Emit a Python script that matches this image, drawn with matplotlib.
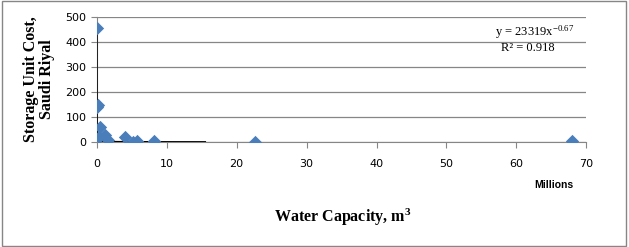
import numpy as np
import matplotlib.pyplot as plt
from matplotlib.patches import Rectangle

plt.rcParams['mathtext.fontset'] = 'custom'
plt.rcParams['mathtext.rm'] = 'Liberation Serif'
plt.rcParams['mathtext.it'] = 'Liberation Serif'
plt.rcParams['mathtext.bf'] = 'Liberation Serif:bold'

# water capacity (millions of m3) and storage unit cost (Saudi Riyal)
capacity = [0.05, 0.08, 0.12, 0.5, 0.3, 1.1, 1.6, 4.0, 5.1, 5.8, 8.2, 22.6, 68.0]
cost = [455, 140, 150, 62, 19, 28, 8, 20, 2, 3, 3, 0, 3]

# power trendline reported in the chart: y = a * x^b  (x in m3)
coef_a = 23319
coef_b = -0.67
r2 = 0.918

fig = plt.figure(figsize=(6.29, 2.47), dpi=100)
ax = fig.add_axes([0.154, 0.425, 0.778, 0.506])

ax.scatter(capacity, cost, marker='D', s=46, color='#4a7ebb', zorder=3, linewidths=0)

trend_x = np.geomspace(360, 15.5e6, 2000)
trend_y = coef_a * trend_x ** coef_b
ax.plot(trend_x / 1e6, trend_y, color='black', lw=1.2, zorder=2.8)

ax.set_xlim(0, 70)
ax.set_ylim(0, 500)
ax.set_xticks(range(0, 71, 10))
ax.set_yticks(range(0, 501, 100))
ax.yaxis.grid(True, color='#868686', lw=0.9)
ax.set_axisbelow(True)
for s in ['top', 'right']:
    ax.spines[s].set_visible(False)
for s in ['left', 'bottom']:
    ax.spines[s].set_color('#868686')
ax.tick_params(axis='both', colors='#868686', labelcolor='black', labelsize=8,
               direction='out', length=4)
ax.tick_params(axis='x', pad=8)
for lab in ax.get_xticklabels() + ax.get_yticklabels():
    lab.set_family('DejaVu Sans')

ax.text(0.975, 0.88, r'y = 23319x$^{\mathrm{-0.67}}$', transform=ax.transAxes,
        family='Liberation Serif', fontsize=9, ha='right', va='center')
ax.text(0.88, 0.755, 'R² = 0.918', transform=ax.transAxes,
        family='Liberation Serif', fontsize=9, ha='center', va='center')

fig.text(0.88, 0.25, 'Millions', family='Liberation Sans', fontsize=7.5,
         fontweight='bold', ha='center', va='center')
fig.text(0.545, 0.12, r'Water Capacity, m$^{\mathbf{3}}$', family='Liberation Serif',
         fontsize=11.5, fontweight='bold', ha='center', va='center')
fig.text(0.062, 0.68, 'Storage Unit Cost,\nSaudi Riyal', family='Liberation Serif',
         fontsize=11.5, fontweight='bold', ha='center', va='center',
         rotation=90, linespacing=1.0)

fig.patches.append(Rectangle((0.003, 0.006), 0.993, 0.988, transform=fig.transFigure,
                             fill=False, edgecolor='#868686', lw=1))

fig.savefig('out.png', dpi=100)
